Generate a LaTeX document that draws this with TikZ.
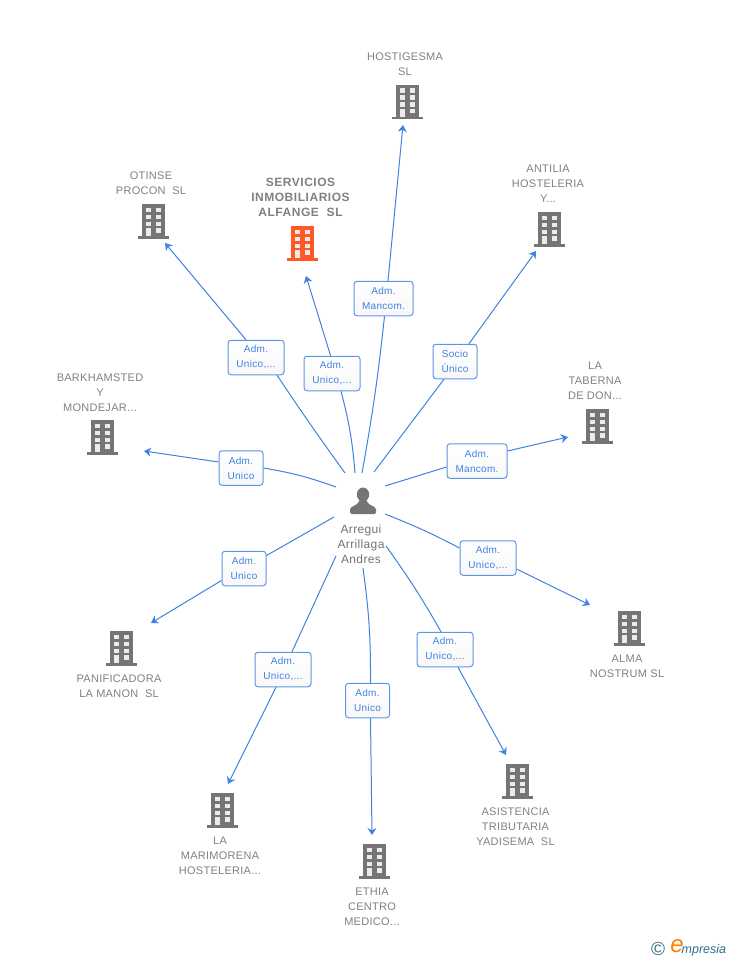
\documentclass[tikz,border=0pt]{standalone}
\usepackage{fontspec}
\setmainfont{Liberation Sans}
\usepackage{tikz}
\usetikzlibrary{arrows.meta}
\definecolor{linkblue}{HTML}{3F82E0}
\definecolor{firmgray}{HTML}{757575}
\definecolor{firmorange}{HTML}{FF5A26}
\definecolor{logoteal}{HTML}{2F6E86}
\newcommand{\adm}{Adm.\hspace{5pt}\\}
\tikzset{
  firm/.style={text=black!50,align=center,font=\fontsize{11}{15}\selectfont\addfontfeature{LetterSpace=2.5}},
  role/.style={draw=linkblue!85,line width=1pt,rounded corners=3pt,top color=white,bottom color=black!3,
    text=linkblue,align=center,minimum width=56pt,minimum height=34.5pt,inner sep=0pt,
    font=\fontsize{10}{15}\selectfont\addfontfeature{LetterSpace=3}},
  link/.style={draw=linkblue,line width=1pt},
  tip/.style={link,-{Stealth[length=7pt,width=9pt]}},
  pics/tower/.style={code={
    \fill[#1] (-11.5,-17) rectangle (11.5,15);
    \fill[#1] (-15.5,15) rectangle (15.5,17.5);
    \foreach \yy in {-13.5,-6.5,0.5} {
      \fill[white!92!black] (-7.5,\yy) rectangle (-2.5,\yy+4.5);
      \fill[white!92!black] (2.5,\yy) rectangle (7.5,\yy+4.5);
    }
    \fill[white!92!black] (2.5,7) rectangle (7.5,11.5);
    \fill[white!92!black] (-7.5,7) rectangle (-2.5,15);
  }}
}
\begin{document}
\begin{tikzpicture}[x=1pt,y=-1pt]
\useasboundingbox (0,0) rectangle (728,960);
% companies
\node[firm] (hostigesma) at (405,64) {HOSTIGESMA\\SL};
\node[firm] (otinse) at (151,183) {OTINSE\\PROCON\ \ SL};
\node[firm,font=\fontsize{12}{15}\selectfont\bfseries\addfontfeature{LetterSpace=4.5}] (alfange) at (300.5,197) {SERVICIOS\\INMOBILIARIOS\\ALFANGE\ \ SL};
\node[firm] (antilia) at (548,184) {ANTILIA\\HOSTELERIA\\Y...};
\node[firm] (taberna) at (595,381) {LA\\TABERNA\\DE DON...};
\node[firm] (barkhamsted) at (100,393) {BARKHAMSTED\\Y\\MONDEJAR...};
\node[firm] (panificadora) at (119,686) {PANIFICADORA\\LA MANON\ \ SL};
\node[firm] (marimorena) at (220,856) {LA\\MARIMORENA\\HOSTELERIA...};
\node[firm] (ethia) at (372,907) {ETHIA\\CENTRO\\MEDICO...};
\node[firm] (asistencia) at (515.5,827) {ASISTENCIA\\TRIBUTARIA\\YADISEMA\ \ SL};
\node[firm] (alma) at (627,666) {ALMA\\NOSTRUM SL};
% icons
\pic at (407.5,102) {tower=firmgray};
\pic at (153,221) {tower=firmgray};
\pic at (302.5,243) {tower=firmorange};
\pic at (549,229) {tower=firmgray};
\pic at (597,426) {tower=firmgray};
\pic at (102,437) {tower=firmgray};
\pic at (121,648) {tower=firmgray};
\pic at (222,810) {tower=firmgray};
\pic at (374,861) {tower=firmgray};
\pic at (517,781) {tower=firmgray};
\pic at (629,628) {tower=firmgray};
% person
\fill[firmgray] (363,494.5) ellipse (6.2 and 7);
\fill[firmgray,rounded corners=1.5pt] (350,514) -- (350,508) -- (358,503.5) -- (360,499) -- (366,499) -- (368,503.5) -- (376,508) -- (376,514) -- cycle;
\node[firm,text=black!55,font=\fontsize{12}{15}\selectfont\addfontfeature{LetterSpace=3}] (arregui) at (361,544) {Arregui\\Arrillaga\\Andres};
% roles
\node[role,minimum width=59pt] (r1) at (383.5,298.5) {\adm Mancom.};
\node[role] (r2) at (332,373.5) {\adm Unico,...};
\node[role] (r3) at (256,357.5) {\adm Unico,...};
\node[role,minimum width=44pt] (r4) at (241,468) {\adm Unico};
\node[role,minimum width=44pt] (r5) at (244,568.5) {\adm Unico};
\node[role] (r6) at (283,669.5) {\adm Unico,...};
\node[role,minimum width=44pt] (r7) at (367.5,700.5) {\adm Unico};
\node[role] (r8) at (445,649.5) {\adm Unico,...};
\node[role] (r9) at (488,558) {\adm Unico,...};
\node[role,minimum width=60pt] (r10) at (477,461) {\adm Mancom.};
\node[role,minimum width=44pt] (r11) at (455,361.5) {Socio\\Único};
% ends of the links
\coordinate (s1) at (362,473); \coordinate (e1) at (403,125);
\coordinate (s2) at (355,473); \coordinate (e2) at (306,276);
\coordinate (s3) at (345,473); \coordinate (e3) at (165,243);
\coordinate (s4) at (336,487); \coordinate (e4) at (144,451);
\coordinate (s5) at (334,517); \coordinate (e5) at (151,623);
\coordinate (s6) at (336,556); \coordinate (e6) at (228,784);
\coordinate (s7) at (363,568); \coordinate (e7) at (372,835);
\coordinate (s8) at (386,546); \coordinate (e8) at (506,755);
\coordinate (s9) at (385,514); \coordinate (e9) at (590,605);
\coordinate (s10) at (385,486); \coordinate (e10) at (568,437);
\coordinate (s11) at (374,472); \coordinate (e11) at (536,251);
\draw[link] (s1) to[bend right=2] ([xshift=1pt]r1.south); \draw[tip] ([xshift=4.5pt]r1.north) -- (e1);
\draw[link] (s2) to[bend right=5] ([xshift=9pt]r2.south); \draw[tip] ([xshift=-1.4pt]r2.north) -- (e2);
\draw[link] (s3) to[bend left=1] ([xshift=21pt]r3.south); \draw[tip] ([xshift=-10pt]r3.north) -- (e3);
\draw[link] (s4) to[bend right=5] (r4.east); \draw[tip] ([yshift=6pt]r4.west) -- (e4);
\draw[link] (s5) -- ([yshift=13pt]r5.east); \draw[tip] ([yshift=-12pt]r5.west) -- (e5);
\draw[link] (s6) -- ([xshift=9pt]r6.north); \draw[tip] ([xshift=-7pt]r6.south) -- (e6);
\draw[link] (s7) to[bend left=4] ([xshift=3pt]r7.north); \draw[tip] ([xshift=3pt]r7.south) -- (e7);
\draw[link] (s8) to[bend left=3] ([xshift=-4pt]r8.north); \draw[tip] ([xshift=13pt]r8.south) -- (e8);
\draw[link] (s9) to[bend left=3] ([yshift=10pt]r9.west); \draw[tip] ([yshift=-11pt]r9.east) -- (e9);
\draw[link] (s10) -- ([yshift=-6pt]r10.west); \draw[tip] ([yshift=10pt]r10.east) -- (e10);
\draw[link] (s11) -- ([xshift=-11pt]r11.south); \draw[tip] ([xshift=14pt]r11.north) -- (e11);
% logo
\node[text=logoteal,font=\fontsize{19}{19}\selectfont,inner sep=0pt] (copysign) at (658,949) {©};
\node[text=orange,font=\fontsize{24}{24}\selectfont\itshape,inner sep=0pt] (logoe) at (677,946) {e};
\node[text=logoteal,font=\fontsize{12.5}{12.5}\selectfont\itshape,anchor=west,inner sep=0pt] (logotext) at (681.5,950) {mpresia};
\end{tikzpicture}
\end{document}
